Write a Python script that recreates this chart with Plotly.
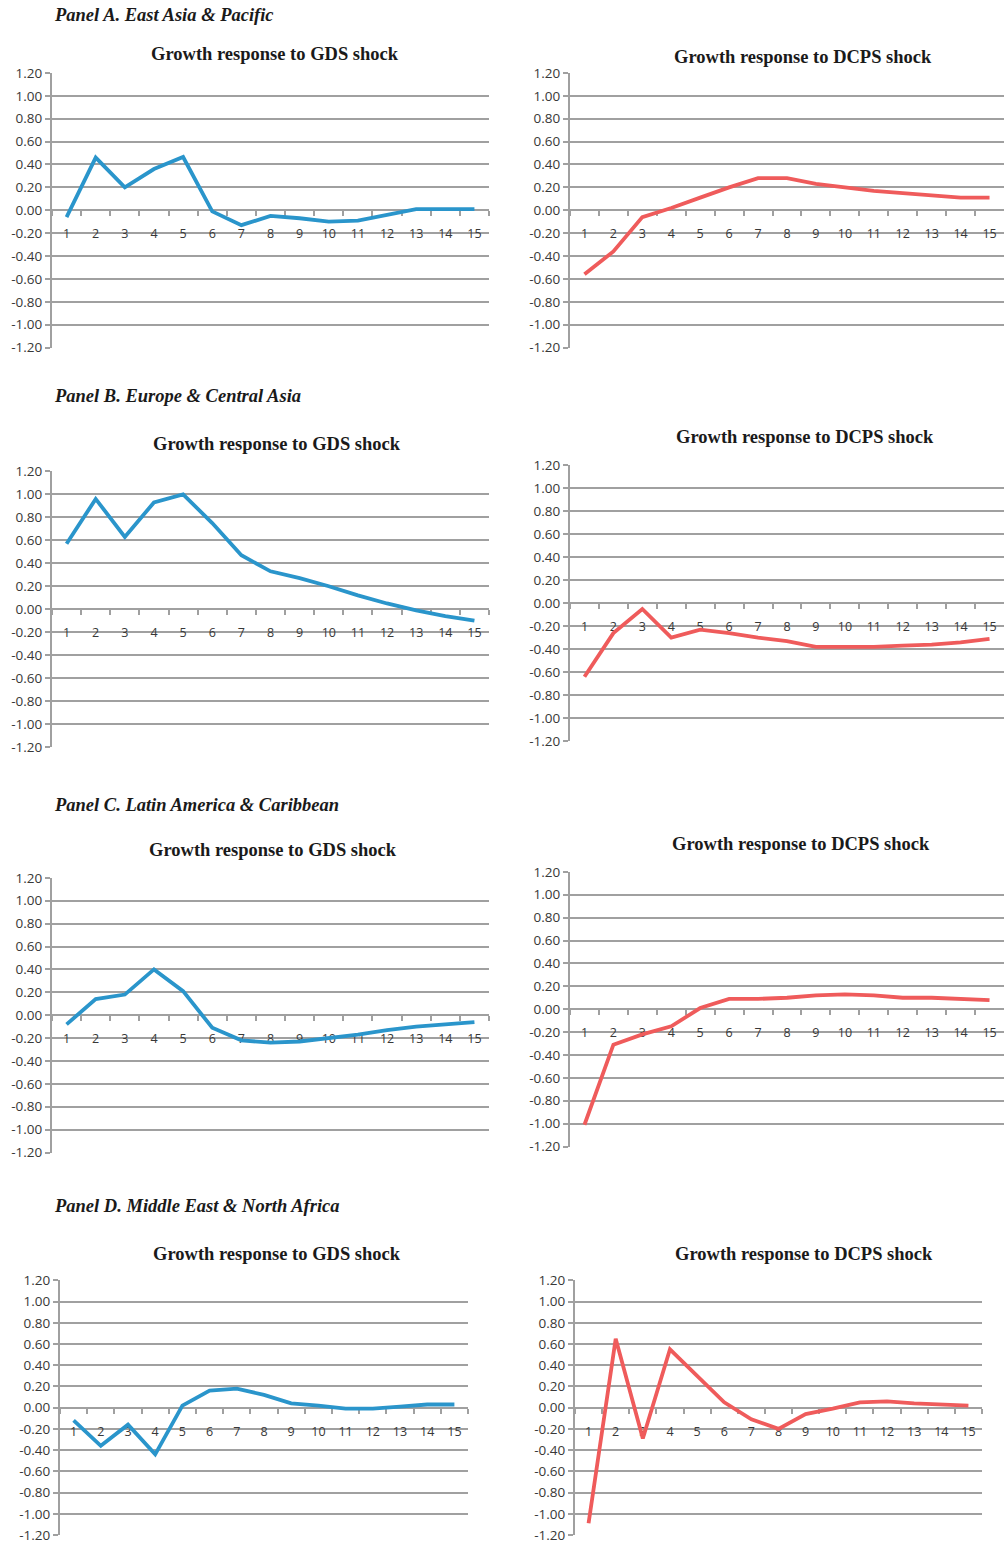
import plotly.graph_objects as go

# Impulse-response horizons
periods = [str(i) for i in range(1, 16)]

# Growth responses by region
eap_gds = [-0.06, 0.46, 0.20, 0.36, 0.465, -0.01, -0.13, -0.05, -0.07, -0.10, -0.09, -0.04, 0.01, 0.01, 0.01]
eap_dcps = [-0.56, -0.36, -0.06, 0.02, 0.11, 0.20, 0.28, 0.28, 0.23, 0.20, 0.17, 0.15, 0.13, 0.11, 0.11]
eca_gds = [0.57, 0.96, 0.63, 0.93, 1.00, 0.75, 0.47, 0.33, 0.27, 0.20, 0.12, 0.05, -0.01, -0.06, -0.10]
eca_dcps = [-0.64, -0.26, -0.05, -0.30, -0.23, -0.26, -0.30, -0.33, -0.38, -0.38, -0.38, -0.37, -0.36, -0.34, -0.31]
lac_gds = [-0.08, 0.14, 0.18, 0.40, 0.21, -0.11, -0.22, -0.24, -0.23, -0.20, -0.17, -0.13, -0.10, -0.08, -0.06]
lac_dcps = [-1.01, -0.31, -0.22, -0.15, 0.01, 0.09, 0.09, 0.10, 0.12, 0.13, 0.12, 0.10, 0.10, 0.09, 0.08]
mena_gds = [-0.12, -0.36, -0.16, -0.44, 0.02, 0.16, 0.18, 0.12, 0.04, 0.02, -0.01, -0.01, 0.01, 0.03, 0.03]
mena_dcps = [-1.09, 0.65, -0.29, 0.55, 0.30, 0.05, -0.11, -0.20, -0.06, -0.01, 0.05, 0.06, 0.04, 0.03, 0.02]

# Y-axis ticks
y_ticks = [1.2, 1.0, 0.8, 0.6, 0.4, 0.2, 0.0, -0.2, -0.4, -0.6, -0.8, -1.0, -1.2]
y_tick_text = ["1.20", "1.00", "0.80", "0.60", "0.40", "0.20", "0.00",
               "-0.20", "-0.40", "-0.60", "-0.80", "-1.00", "-1.20"]

panel_titles = ["Panel A. East Asia & Pacific", "Panel B. Europe & Central Asia",
                "Panel C. Latin America & Caribbean", "Panel D. Middle East & North Africa"]
gds_title = "Growth response to GDS shock"
dcps_title = "Growth response to DCPS shock"

W, H = 1004, 1544
# vertical frame used to place the panels (top offset and usable height)
Y0, YH = 8.0, 1528.0
BLUE = "#2a95cb"
RED = "#ef5b5b"
GRID = "#a0a0a0"
TEXT = "#383838"


def fy(py):
    """Pixel row -> paper fraction, clamped to the page."""
    return min(1.0, max(0.0, 1 - (py - Y0) / YH))


# plot boxes in pixels: (left, right, top, bottom), title centre (x, y)
charts = [
    (eap_gds, BLUE, (52, 489, 72, 347), (275, 53), gds_title),
    (eap_dcps, RED, (570, 1004, 72, 347), (803, 56), dcps_title),
    (eca_gds, BLUE, (52, 489, 471, 747), (277, 444), gds_title),
    (eca_dcps, RED, (570, 1004, 465, 741), (805, 437), dcps_title),
    (lac_gds, BLUE, (52, 489, 878, 1153), (273, 850), gds_title),
    (lac_dcps, RED, (570, 1004, 872, 1147), (801, 844), dcps_title),
    (mena_gds, BLUE, (60, 468, 1281, 1537), (277, 1255), gds_title),
    (mena_dcps, RED, (575, 982, 1281, 1537), (804, 1255), dcps_title),
]
panel_label_y = [14, 396, 805, 1207]

fig = go.Figure()
annotations = []
layout = {}

for i, (vals, color, box, tpos, title) in enumerate(charts, start=1):
    left, right, top, bottom = box
    xd = [left / W, right / W]
    yd = [fy(bottom), fy(top)]
    xa = "x" if i == 1 else f"x{i}"
    ya = "y" if i == 1 else f"y{i}"
    fig.add_trace(go.Scatter(
        x=periods, y=vals, mode="lines", xaxis=xa, yaxis=ya,
        line=dict(color=color, width=3.8), showlegend=False, hoverinfo="x+y",
    ))
    layout[f"xaxis{'' if i == 1 else i}"] = dict(
        domain=xd, type="category", categoryorder="array", categoryarray=periods,
        range=[-0.5, 14.5], anchor="free", position=fy((top + bottom) / 2),
        showline=True, linecolor=GRID, linewidth=2, showgrid=False, zeroline=False,
        tickson="boundaries", ticks="outside", ticklen=5, tickwidth=2, tickcolor=GRID,
        tickfont=dict(family="Open Sans", size=12.5, color=TEXT),
        ticklabelstandoff=12, layer="below traces", fixedrange=True,
    )
    layout[f"yaxis{'' if i == 1 else i}"] = dict(
        domain=yd, anchor=xa, range=[-1.2, 1.2], tickmode="array",
        tickvals=y_ticks, ticktext=y_tick_text,
        showline=True, linecolor=GRID, linewidth=2, showgrid=True, gridcolor=GRID,
        gridwidth=2, zeroline=False, ticks="outside", ticklen=5, tickwidth=2,
        tickcolor=GRID, tickfont=dict(family="Open Sans", size=13.5, color=TEXT),
        layer="below traces", fixedrange=True,
    )
    annotations.append(dict(
        text=f"<b>{title}</b>", x=tpos[0] / W, y=fy(tpos[1]), xref="paper", yref="paper",
        xanchor="center", yanchor="middle", showarrow=False,
        font=dict(family="Liberation Serif", size=18.5, color="#1a1a1a"),
    ))

for label, py in zip(panel_titles, panel_label_y):
    annotations.append(dict(
        text=f"<b><i>{label}</i></b>", x=52 / W, y=fy(py), xref="paper", yref="paper",
        xanchor="left", yanchor="middle", showarrow=False,
        font=dict(family="Liberation Serif", size=18.5, color="#1a1a1a"),
    ))

fig.update_layout(
    width=W, height=H, margin=dict(l=0, r=0, t=0, b=0),
    paper_bgcolor="white", plot_bgcolor="white",
    annotations=annotations, **layout,
)

fig.write_html("out.html", config={"displayModeBar": False})
